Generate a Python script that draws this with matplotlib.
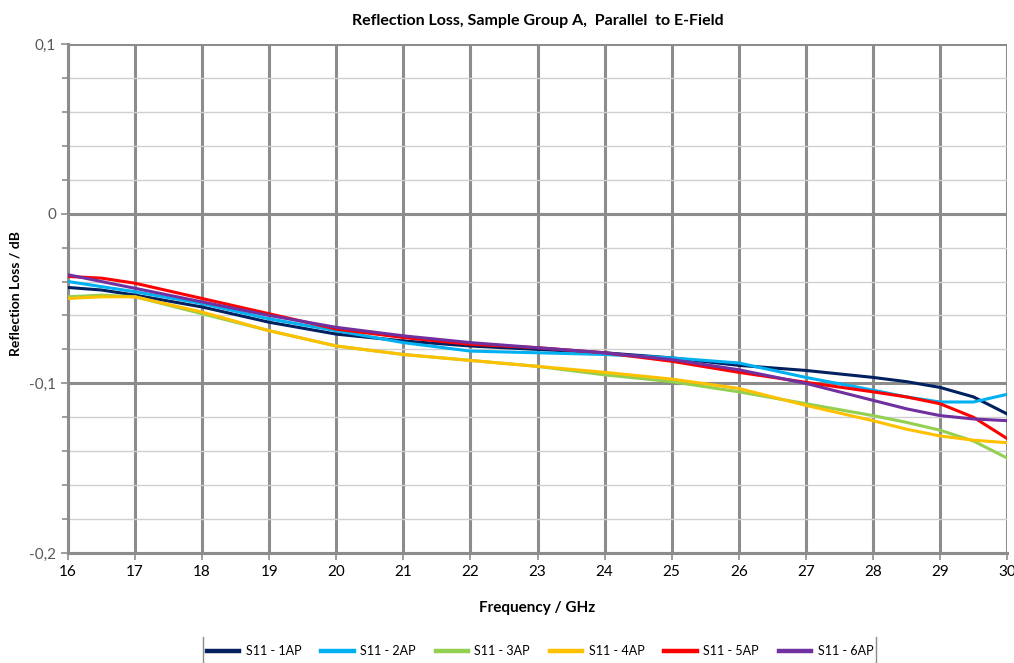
import matplotlib
matplotlib.use("Agg")
import matplotlib.pyplot as plt
from matplotlib.lines import Line2D
from matplotlib.ticker import MultipleLocator, FuncFormatter

plt.rcParams['font.family'] = ['Lato', 'DejaVu Sans']

#
# data
freq = [16, 16.5, 17, 18, 19, 20, 21, 22, 23, 24, 25, 26, 27, 28, 28.5, 29, 29.5, 30]

s11_1ap = [-0.0435, -0.045, -0.048, -0.055, -0.064, -0.071, -0.075, -0.078, -0.080, -0.082, -0.085, -0.0894, -0.0924, -0.0965, -0.099, -0.1024, -0.108, -0.118]
s11_2ap = [-0.040, -0.043, -0.046, -0.053, -0.062, -0.069, -0.076, -0.081, -0.082, -0.083, -0.085, -0.088, -0.0965, -0.104, -0.108, -0.111, -0.111, -0.1065]
s11_3ap = [-0.049, -0.048, -0.049, -0.059, -0.069, -0.078, -0.083, -0.0865, -0.090, -0.095, -0.099, -0.105, -0.112, -0.119, -0.123, -0.1276, -0.134, -0.144]
s11_4ap = [-0.050, -0.049, -0.049, -0.058, -0.069, -0.078, -0.083, -0.0865, -0.090, -0.0935, -0.0975, -0.103, -0.113, -0.122, -0.127, -0.131, -0.1335, -0.135]
s11_5ap = [-0.037, -0.038, -0.041, -0.050, -0.059, -0.068, -0.073, -0.077, -0.079, -0.082, -0.087, -0.0935, -0.0994, -0.105, -0.108, -0.112, -0.120, -0.1325]
s11_6ap = [-0.036, -0.040, -0.044, -0.052, -0.060, -0.067, -0.072, -0.076, -0.079, -0.082, -0.086, -0.092, -0.100, -0.110, -0.115, -0.119, -0.121, -0.122]

labels = ["S11 - 1AP", "S11 - 2AP", "S11 - 3AP", "S11 - 4AP", "S11 - 5AP", "S11 - 6AP"]
colors = ["#002060", "#00B0F0", "#92D050", "#FFC000", "#FF0000", "#7030A0"]
series = [s11_1ap, s11_2ap, s11_3ap, s11_4ap, s11_5ap, s11_6ap]

fig = plt.figure(figsize=(10.14, 6.63), dpi=100)
ax = fig.add_axes([68/1014, 1 - 553/663, (1007 - 68)/1014, (553 - 44)/663])

for vals, lab, col in zip(series, labels, colors):
    ax.plot(freq, vals, color=col, lw=2.2, label=lab, zorder=3, solid_joinstyle='round')

ax.set_xlim(16, 30)
ax.set_ylim(-0.2, 0.1)
ax.xaxis.set_major_locator(MultipleLocator(1))
ax.yaxis.set_major_locator(MultipleLocator(0.1))
ax.yaxis.set_minor_locator(MultipleLocator(0.02))
ax.yaxis.set_major_formatter(FuncFormatter(lambda v, p: "0" if abs(v) < 1e-9 else ("%.1f" % v).replace(".", ",")))

ax.grid(which='major', color='#8c8c8c', lw=2.2, zorder=1)
ax.grid(which='minor', axis='y', color='#d0d0d0', lw=1.0, zorder=0)
for side in ['top', 'right']:
    ax.spines[side].set_visible(False)
for side in ['left', 'bottom']:
    ax.spines[side].set_color('#8c8c8c')
    ax.spines[side].set_linewidth(2.2)

ax.tick_params(which='both', colors='#8c8c8c', labelcolor='#595959', labelsize=11)
ax.tick_params(which='major', length=5, width=1.2)
ax.tick_params(which='minor', length=4, width=1.2)
ax.tick_params(axis='x', labelcolor='#000000', labelsize=11)

ax.set_title("Reflection Loss, Sample Group A,  Parallel  to E-Field", fontsize=11.5, fontweight='bold', pad=14)
ax.set_xlabel("Frequency / GHz", fontsize=11, fontweight='bold', labelpad=16)
ax.set_ylabel("Reflection Loss / dB", fontsize=10, fontweight='bold')
ax.yaxis.set_label_coords(-0.049, 0.51)

leg = fig.legend(loc='center', bbox_to_anchor=(540/1014, 1 - 651/663), ncol=6, frameon=False,
                 fontsize=9, handlelength=2.6, columnspacing=1.6, handletextpad=0.5)
for h in leg.legend_handles:
    h.set_linewidth(3.2)
for x in [203, 876]:
    fig.add_artist(Line2D([x/1014, x/1014], [0, 1 - 637/663], color='#8c8c8c', lw=1.0))

fig.savefig("out.png", dpi=100)
